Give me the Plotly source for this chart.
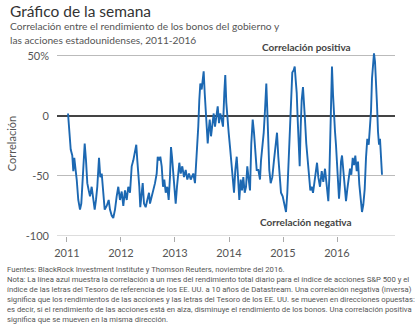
import plotly.graph_objects as go

# decimal year, correlation (%)
years = [2011.019, 2011.037, 2011.069, 2011.098, 2011.117, 2011.135, 2011.154, 2011.180, 2011.209, 2011.241,
         2011.265, 2011.291, 2011.328, 2011.352, 2011.376, 2011.402, 2011.426, 2011.457, 2011.487, 2011.513,
         2011.537, 2011.561, 2011.593, 2011.617, 2011.643, 2011.672, 2011.698, 2011.735, 2011.772, 2011.796,
         2011.828, 2011.857, 2011.889, 2011.920, 2011.950, 2011.981, 2012.013, 2012.043,
         2012.074, 2012.106, 2012.135, 2012.167, 2012.198, 2012.228, 2012.259, 2012.283, 2012.302, 2012.320,
         2012.339, 2012.357, 2012.383, 2012.402, 2012.426, 2012.457, 2012.487, 2012.519, 2012.537, 2012.569,
         2012.598, 2012.630, 2012.661, 2012.680, 2012.704, 2012.728, 2012.754, 2012.778, 2012.802, 2012.828,
         2012.857, 2012.883, 2012.907, 2012.926, 2012.944, 2012.963, 2012.987, 2013.013, 2013.037, 2013.061,
         2013.080, 2013.106, 2013.135, 2013.167, 2013.198, 2013.228, 2013.259, 2013.291,
         2013.309, 2013.339, 2013.370, 2013.402, 2013.431, 2013.450, 2013.469, 2013.494, 2013.513, 2013.531,
         2013.550, 2013.569, 2013.587, 2013.606, 2013.624, 2013.643, 2013.667, 2013.691, 2013.717, 2013.741,
         2013.765, 2013.791, 2013.815, 2013.839, 2013.865, 2013.889, 2013.913, 2013.931, 2013.950, 2013.969,
         2013.994, 2014.019, 2014.043, 2014.069, 2014.093, 2014.117, 2014.143, 2014.167, 2014.191, 2014.217,
         2014.241, 2014.265, 2014.291, 2014.315, 2014.339, 2014.365, 2014.389, 2014.413, 2014.439, 2014.463,
         2014.487, 2014.513, 2014.543, 2014.574, 2014.593, 2014.617, 2014.643, 2014.667, 2014.691, 2014.709,
         2014.728, 2014.746, 2014.772, 2014.802, 2014.833, 2014.865, 2014.889, 2014.913, 2014.939, 2014.963,
         2014.994, 2015.024, 2015.056, 2015.080, 2015.098, 2015.117, 2015.135, 2015.154, 2015.172, 2015.198,
         2015.217, 2015.235, 2015.254, 2015.272, 2015.291, 2015.309, 2015.328, 2015.346, 2015.370, 2015.389,
         2015.407, 2015.431, 2015.457, 2015.481, 2015.506, 2015.531, 2015.556, 2015.580, 2015.606, 2015.630,
         2015.654, 2015.685,
         2015.717, 2015.746, 2015.778, 2015.809, 2015.839, 2015.857, 2015.876, 2015.894, 2015.907, 2015.926,
         2015.944, 2015.963, 2015.981, 2016.000, 2016.019, 2016.037, 2016.056, 2016.074, 2016.093, 2016.117,
         2016.143, 2016.167, 2016.191, 2016.217, 2016.241, 2016.265, 2016.291, 2016.315, 2016.339, 2016.365,
         2016.389, 2016.413, 2016.439, 2016.463, 2016.487, 2016.513, 2016.537, 2016.561, 2016.587, 2016.611,
         2016.630, 2016.648, 2016.667, 2016.685, 2016.704, 2016.722, 2016.741, 2016.759, 2016.778, 2016.796,
         2016.815, 2016.833]
corr = [2, -12, -28, -33, -46, -35, -42, -53, -70, -78,
        -73, -51, -23, -37, -56, -62, -67, -59, -70, -78,
        -70, -59, -35, -51, -48, -62, -78, -75, -70, -78,
        -83, -85, -78, -67, -59, -70, -63, -75,
        -62, -70, -59, -64, -42, -37, -28, -24, -37, -45,
        -59, -76, -67, -56, -73, -76, -70, -64, -73, -67,
        -64, -56, -48, -34, -37, -34, -42, -59, -53, -64,
        -59, -70, -51, -26, -34, -45, -59, -73, -59, -45,
        -39, -48, -42, -51, -45, -53, -48, -53,
        -51, -48, -56, -34, -9, 13, 27, 22, 33, 37,
        19, 5, -9, -23, -12, -3, -17, -6, 2, -9,
        -1, 8, -6, 2, -3, -9, 19, 34, 11, -3,
        -14, -26, -39, -51, -64, -45, -34, -51, -70, -53,
        -62, -51, -64, -59, -42, -53, -62, -23, -3, -14,
        -31, -45, -45, -53, -37, -26, -14, 5, 27, 5,
        -23, -45, -56, -51, -37, -23, -14, -34, -51, -64,
        -67, -73, -80, -64, -45, -23, 5, 27, 36, 38,
        41, 30, 19, -3, -23, -42, -9, 13, 24, 13,
        -3, -23, -39, -53, -62, -59, -64, -56, -45, -39,
        -51, -59,
        -46, -55, -44, -60, -71, -52, -19, 18, 41, 18,
        -5, -13, -24, -41, -57, -69, -57, -38, -33, -46,
        -63, -71, -61, -52, -44, -49, -35, -41, -33, -46,
        -38, -57, -71, -80, -74, -61, -35, -19, -24, -10,
        4, 31, 48, 52, 45, 31, 9, -13, -24, -19,
        -35, -49]

tick_vals_x = [2011, 2012, 2013, 2014, 2015, 2016]
tick_text_x = ["2011", "2012", "2013", "2014", "2015", "2016"]
tick_vals_y = [-100, -50, 0, 50]
tick_text_y = ["-100", "-50", "0", "50%"]

title = "Gráfico de la semana"
subtitle = "Correlación entre el rendimiento de los bonos del gobierno y<br>las acciones estadounidenses, 2011-2016"
footnote = ("Fuentes: BlackRock Investment Institute y Thomson Reuters, noviembre del 2016.<br>"
            "Nota: La línea azul muestra la correlación a un mes del rendimiento total diario para el índice de acciones S&amp;P 500 y el<br>"
            "índice de las letras del Tesoro de referencia de los EE. UU. a 10 años de Datastream. Una correlación negativa (inversa)<br>"
            "significa que los rendimientos de las acciones y las letras del Tesoro de los EE. UU. se mueven en direcciones opuestas:<br>"
            "es decir, si el rendimiento de las acciones está en alza, disminuye el rendimiento de los bonos. Una correlación positiva<br>"
            "significa que se mueven en la misma dirección.")

FONT = "Lato, 'Open Sans', sans-serif"
NARROW = "'Liberation Sans Narrow', 'Roboto', sans-serif"

header = ("<span style='font-size:15.5px;color:#333'>" + title + "</span><br>" + subtitle)

fig = go.Figure()
fig.add_trace(go.Scatter(x=years, y=corr, mode="lines",
                         line=dict(color="#1c68b2", width=1.9), showlegend=False,
                         hoverinfo="skip"))

fig.update_layout(
    width=420, height=329,
    margin=dict(l=57, r=25, t=51, b=93),
    paper_bgcolor="white", plot_bgcolor="white",
    font=dict(family=FONT, color="#555", size=11),
    xaxis=dict(range=[2010.815, 2017.074], tickvals=tick_vals_x, ticktext=tick_text_x,
               showgrid=False, zeroline=False, showline=False,
               ticks="outside", ticklen=5, tickcolor="#aaa", tickwidth=1,
               tickfont=dict(size=11, color="#555"), ticklabelstandoff=2),
    yaxis=dict(range=[-100, 54], tickvals=tick_vals_y, ticktext=tick_text_y,
               showgrid=True, gridcolor="#bbb", gridwidth=1,
               zeroline=True, zerolinecolor="#444", zerolinewidth=2,
               showline=False, ticks="", ticklabelstandoff=7,
               tickfont=dict(size=11, color="#555"),
               title=dict(text="Correlación", font=dict(size=11, color="#555"), standoff=6)),
    shapes=[dict(type="line", xref="paper", yref="y", x0=0, x1=1, y0=-100, y1=-100,
                 line=dict(color="#bbb", width=1))],
    annotations=[
        dict(text=header, xref="paper", yref="paper", x=-0.145, y=1.276, xanchor="left", yanchor="top",
             showarrow=False, align="left", font=dict(size=10.2, color="#555", family=FONT)),
        dict(text="<b>Correlación positiva</b>", xref="x", yref="paper", x=2015.43, y=1.022,
             xanchor="center", yanchor="middle", showarrow=False,
             font=dict(size=10, color="#444", family=FONT)),
        dict(text="<b>Correlación negativa</b>", xref="x", yref="paper", x=2015.43, y=0.074,
             xanchor="center", yanchor="middle", showarrow=False,
             font=dict(size=10, color="#444", family=FONT)),
        dict(text=footnote, xref="paper", yref="paper", x=-0.154, y=-0.148, xanchor="left", yanchor="top",
             showarrow=False, align="left", font=dict(size=7.7, color="#555", family=NARROW)),
    ],
)

fig.write_html("out.html")
